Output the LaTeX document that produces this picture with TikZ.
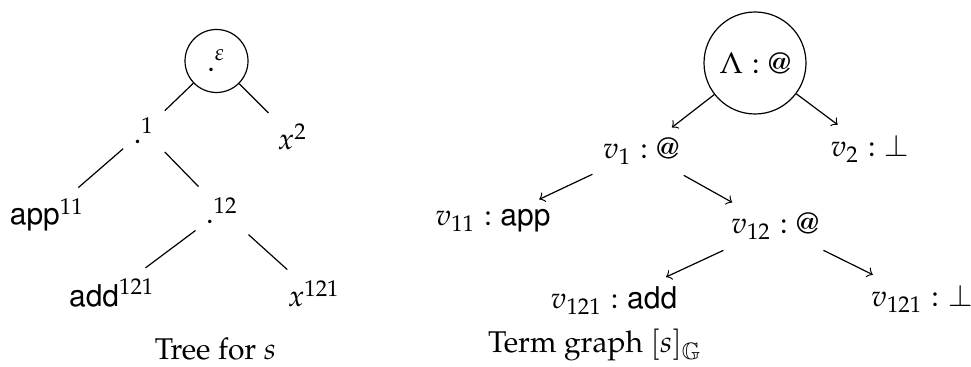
\documentclass[tikz,border=0pt]{standalone}
\usepackage[T1]{fontenc}
\usepackage{mathpazo}
\usepackage{helvet}
% outline double-struck letters
\DeclareMathAlphabet{\mathds}{U}{msb}{m}{n}
\newcommand{\sym}[1]{\textsf{#1}}
\begin{document}
\begin{tikzpicture}[x=0.33333pt,y=-0.33333pt,
  lbl/.style={anchor=base},
  ring/.style={draw,circle,inner sep=0pt},
  treeedge/.style={draw,line width=0.4pt},
  graphedge/.style={draw,->,line width=0.4pt}]
\useasboundingbox (0,0) rectangle (971,367);

% ---- tree for s ----
\node[ring,minimum size=21pt] (t0) at (216.5,61) {$.^{\varepsilon}$};
\node[lbl] (t1)   at (144,144)   {$.^{1}$};
\node[lbl] (t2)   at (292.5,150) {$x^{2}$};
\node[lbl] (t11)  at (47,225)    {$\sym{app}^{11}$};
\node[lbl] (t12)  at (222,224)   {$.^{12}$};
\node[lbl] (t121) at (112,307)   {$\sym{add}^{121}$};
\node[lbl] (t122) at (314,307)   {$x^{121}$};
\node[lbl] (cap1) at (215.5,360) {Tree for $s$};

\path[treeedge] (t0) -- (t1);
\path[treeedge] (t0) -- (t2);
\path[treeedge] (t1) -- (t11);
\path[treeedge] (t1) -- (t12);
\path[treeedge] (t12) -- (t121);
\path[treeedge] (t12) -- (t122);

% ---- term graph ----
\node[ring,minimum size=34pt] (g0) at (755,63) {$\Lambda : @$};
\node[lbl] (g1)   at (641,159) {$v_1 : @$};
\node[lbl] (g2)   at (870,157) {$v_2 : \bot$};
\node[lbl] (g11)  at (493,226) {$v_{11} : \sym{app}$};
\node[lbl] (g12)  at (775,234) {$v_{12} : @$};
\node[lbl] (g121) at (614,309) {$v_{121} : \sym{add}$};
\node[lbl] (g122) at (922,307) {$v_{121} : \bot$};
\node[lbl] (cap2) at (595,353) {Term graph $[s]_{\mathds{G}}$};

\path[graphedge] (g0) -- (g1);
\path[graphedge] (g0) -- (g2);
\path[graphedge] (g1) -- (g11);
\path[graphedge] (g1) -- (g12);
\path[graphedge] (g12) -- (g121);
\path[graphedge] (g12) -- (g122);
\end{tikzpicture}
\end{document}
